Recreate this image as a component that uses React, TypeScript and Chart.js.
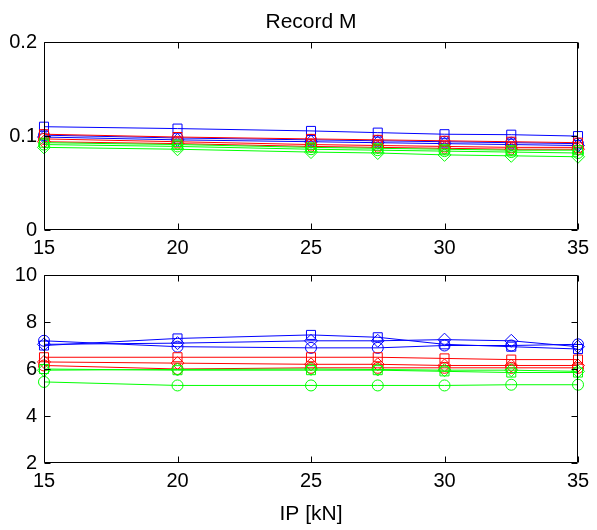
import React, { useEffect, useRef } from "react";
import { Chart, registerables } from "chart.js";
Chart.register(...registerables);

// ---- data ----
const xValues = [15, 20, 25, 27.5, 30, 32.5, 35];
const xTicks = [15, 20, 25, 30, 35];
const topYTicks = [0, 0.1, 0.2];
const bottomYTicks = [2, 4, 6, 8, 10];
const titleText = "Record M";
const xLabel = "IP [kN]";

// top subplot
const topBlueSquare = [0.110, 0.108, 0.1055, 0.1037, 0.102, 0.1015, 0.100];
const topBlueCircle = [0.101, 0.098, 0.096, 0.095, 0.094, 0.093, 0.092];
const topBlueDiamond = [0.099, 0.096, 0.094, 0.093, 0.092, 0.091, 0.090];
const topRedSquare = [0.102, 0.099, 0.097, 0.096, 0.095, 0.094, 0.093];
const topRedCircle = [0.097, 0.094, 0.091, 0.090, 0.089, 0.088, 0.088];
const topRedDiamond = [0.094, 0.092, 0.089, 0.088, 0.087, 0.086, 0.086];
const topGreenSquare = [0.093, 0.091, 0.088, 0.087, 0.086, 0.085, 0.085];
const topGreenCircle = [0.091, 0.089, 0.086, 0.085, 0.084, 0.083, 0.082];
const topGreenDiamond = [0.088, 0.086, 0.083, 0.082, 0.080, 0.079, 0.078];

// bottom subplot
const botBlueSquare = [7.0, 7.3, 7.45, 7.35, 7.05, 6.95, 6.85];
const botBlueCircle = [7.2, 6.95, 6.9, 6.9, 7.0, 7.0, 7.05];
const botBlueDiamond = [7.05, 7.1, 7.2, 7.2, 7.25, 7.2, 6.95];
const botRedSquare = [6.5, 6.5, 6.5, 6.5, 6.45, 6.4, 6.4];
const botRedDiamond = [6.3, 6.25, 6.2, 6.2, 6.15, 6.15, 6.15];
const botRedCircle = [6.15, 6.0, 6.05, 6.05, 6.05, 6.05, 6.05];
const botGreenSquare = [6.0, 5.95, 5.95, 5.95, 5.9, 5.85, 5.85];
const botGreenDiamond = [5.95, 5.98, 6.0, 5.98, 5.95, 5.95, 5.9];
const botGreenCircle = [5.45, 5.3, 5.3, 5.3, 5.3, 5.33, 5.33];

const BLUE = "#0000ff";
const RED = "#ff0000";
const GREEN = "#00ff00";
const FAMILY = "'Liberation Sans', Arial, Helvetica, sans-serif";
const TICK_FONT = { family: FAMILY, size: 20 };
const LABEL_FONT = { family: FAMILY, size: 21, weight: "normal" as const };

const markerRadius: Record<string, number> = { rect: 6.4, circle: 5.5, rectRot: 6.5 };

function ds(values: number[], color: string, style: string) {
  return {
    data: values.map((y, i) => ({ x: xValues[i], y })),
    borderColor: color,
    borderWidth: 1,
    backgroundColor: "rgba(0,0,0,0)",
    pointStyle: style,
    pointRadius: markerRadius[style],
    pointBorderWidth: 1,
    pointBorderColor: color,
    pointBackgroundColor: "rgba(0,0,0,0)",
    showLine: true,
    clip: false as any,
  };
}

const matlabBox = {
  id: "matlabBox",
  afterDraw(chart: any) {
    const { ctx, chartArea: a, scales } = chart;
    const xs = scales.x;
    const ys = scales.y;
    ctx.save();
    ctx.strokeStyle = "#000";
    ctx.lineWidth = 1;
    const L = Math.round(a.left) + 0.5;
    const R = Math.round(a.right) - 0.5;
    const T = Math.round(a.top) + 0.5;
    const B = Math.round(a.bottom) - 0.5;
    const tl = 6;
    ctx.beginPath();
    ctx.rect(L, T, R - L, B - T);
    xs.ticks.forEach((t: any) => {
      const px = Math.round(xs.getPixelForValue(t.value)) + 0.5;
      ctx.moveTo(px, B);
      ctx.lineTo(px, B - tl);
      ctx.moveTo(px, T);
      ctx.lineTo(px, T + tl);
    });
    ys.ticks.forEach((t: any) => {
      const py = Math.round(ys.getPixelForValue(t.value)) + 0.5;
      ctx.moveTo(L, py);
      ctx.lineTo(L + tl, py);
      ctx.moveTo(R, py);
      ctx.lineTo(R - tl, py);
    });
    ctx.stroke();
    ctx.restore();
  },
};

function makeOptions(opts: {
  yMin: number; yMax: number; yTicks: number[]; xAxisHeight: number;
  showTitle: boolean; showXLabel: boolean; padTop: number;
}) {
  return {
    responsive: false,
    animation: false as const,
    devicePixelRatio: 1,
    layout: { padding: { left: 0, right: 19, top: opts.padTop, bottom: 0 } },
    plugins: {
      legend: { display: false },
      tooltip: { enabled: false },
      title: {
        display: opts.showTitle,
        text: titleText,
        color: "#000",
        fullSize: false,
        font: LABEL_FONT,
        padding: { top: 10, bottom: 7 },
      },
    },
    scales: {
      x: {
        type: "linear" as const,
        min: 15,
        max: 35,
        grid: { display: false, drawTicks: false },
        border: { display: false },
        afterBuildTicks: (s: any) => { s.ticks = xTicks.map((v) => ({ value: v })); },
        afterFit: (s: any) => { s.height = opts.xAxisHeight; s.paddingLeft = 0; s.paddingRight = 0; },
        ticks: {
          color: "#000",
          font: TICK_FONT,
          padding: 6,
          maxRotation: 0,
          autoSkip: false,
          callback: (v: any) => String(v),
        },
        title: {
          display: opts.showXLabel,
          text: xLabel,
          color: "#000",
          font: LABEL_FONT,
          padding: { top: 0, bottom: 3 },
        },
      },
      y: {
        type: "linear" as const,
        min: opts.yMin,
        max: opts.yMax,
        grid: { display: false, drawTicks: false },
        border: { display: false },
        afterBuildTicks: (s: any) => { s.ticks = opts.yTicks.map((v) => ({ value: v })); },
        afterFit: (s: any) => { s.width = 44; s.paddingTop = 0; s.paddingBottom = 0; },
        ticks: {
          color: "#000",
          font: TICK_FONT,
          padding: 7,
          autoSkip: false,
          callback: (v: any) => String(v),
        },
      },
    },
  };
}

export default function App() {
  const topRef = useRef<HTMLCanvasElement>(null);
  const botRef = useRef<HTMLCanvasElement>(null);

  useEffect(() => {
    const top = new Chart(topRef.current!, {
      type: "line",
      data: {
        datasets: [
          ds(topGreenDiamond, GREEN, "rectRot"),
          ds(topGreenCircle, GREEN, "circle"),
          ds(topGreenSquare, GREEN, "rect"),
          ds(topRedDiamond, RED, "rectRot"),
          ds(topRedCircle, RED, "circle"),
          ds(topRedSquare, RED, "rect"),
          ds(topBlueDiamond, BLUE, "rectRot"),
          ds(topBlueCircle, BLUE, "circle"),
          ds(topBlueSquare, BLUE, "rect"),
        ] as any,
      },
      options: makeOptions({
        yMin: 0, yMax: 0.2, yTicks: topYTicks, xAxisHeight: 35,
        showTitle: true, showXLabel: false, padTop: 0,
      }) as any,
      plugins: [matlabBox],
    });
    const bot = new Chart(botRef.current!, {
      type: "line",
      data: {
        datasets: [
          ds(botGreenDiamond, GREEN, "rectRot"),
          ds(botGreenCircle, GREEN, "circle"),
          ds(botGreenSquare, GREEN, "rect"),
          ds(botRedDiamond, RED, "rectRot"),
          ds(botRedCircle, RED, "circle"),
          ds(botRedSquare, RED, "rect"),
          ds(botBlueDiamond, BLUE, "rectRot"),
          ds(botBlueCircle, BLUE, "circle"),
          ds(botBlueSquare, BLUE, "rect"),
        ] as any,
      },
      options: makeOptions({
        yMin: 2, yMax: 10, yTicks: bottomYTicks, xAxisHeight: 67,
        showTitle: false, showXLabel: true, padTop: 20,
      }) as any,
      plugins: [matlabBox],
    });
    return () => {
      top.destroy();
      bot.destroy();
    };
  }, []);

  return (
    <div style={{ position: "fixed", left: 0, top: 0, width: 597, height: 530, background: "#fff" }}>
      <canvas ref={topRef} width={597} height={265} style={{ position: "absolute", left: 0, top: 0 }} />
      <canvas ref={botRef} width={597} height={275} style={{ position: "absolute", left: 0, top: 255 }} />
    </div>
  );
}
